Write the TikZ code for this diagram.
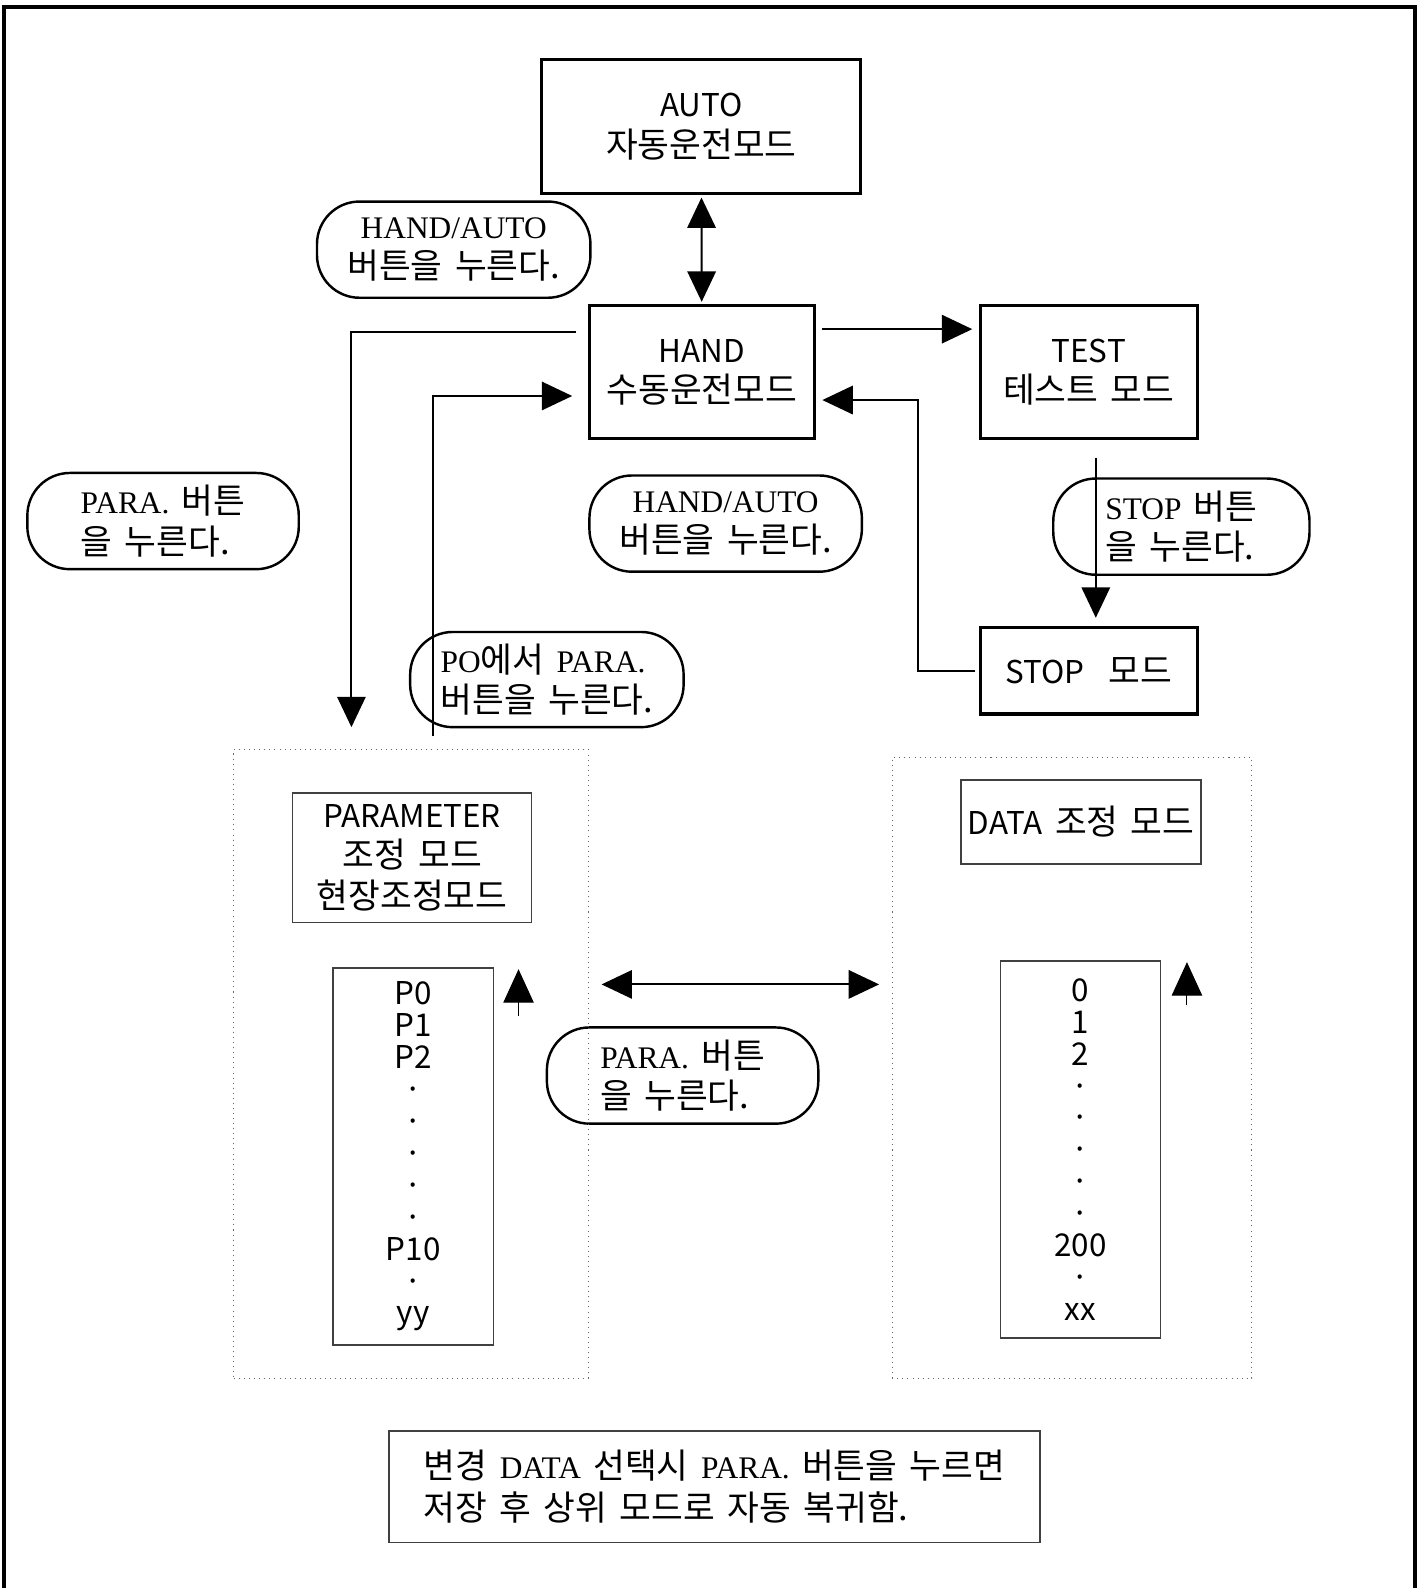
\documentclass[tikz,border=0pt]{standalone}
\usepackage{fontspec}
\setmainfont{Liberation Serif}
\newfontfamily\kr[Scale=1.1,WordSpace=1.6]{Noto Sans CJK KR}
\newfontfamily\sn{Noto Sans CJK KR}
\newfontfamily\tm{Liberation Serif}
\usetikzlibrary{arrows.meta,calc}
\begin{document}
\begin{tikzpicture}[x=0.5pt,y=-0.5pt,
  every node/.style={inner sep=0pt, outer sep=0pt},
  txt/.style={font=\kr\fontsize{15.5pt}{20pt}\selectfont, align=center},
  modebox/.style={txt, draw, line width=1.5pt},
  pill/.style={txt, draw, line width=1.2pt, rounded corners=21pt, align=left, minimum height=47.5pt},
  thinbox/.style={txt, draw=black!75, line width=0.7pt},
  dotbox/.style={draw=black!60, dotted, line width=0.5pt},
  listtxt/.style={font=\sn\fontsize{15.5pt}{15.75pt}\selectfont, align=center},
  arr/.style={line width=1pt, -{Triangle[length=15pt,width=14pt]}},
  dblarr/.style={line width=1pt, {Triangle[length=15pt,width=14pt]}-{Triangle[length=15pt,width=14pt]}},
  uparr/.style={line width=0.5pt, -{Triangle[length=16.5pt,width=15pt]}},
]
\useasboundingbox (0,0) rectangle (1406,1568);
% outer frame
\draw[line width=2.2pt] (4,1570) -- (4,7) -- (1397,7) -- (1397,1570);

% mode boxes
\node[modebox, minimum width=157.5pt, minimum height=66pt] (auto) at (692.5,125) {{\sn AUTO}\\자동운전모드};
\node[modebox, minimum width=111pt, minimum height=65.5pt] (hand) at (693,367.5) {{\sn HAND}\\수동운전모드};
\node[modebox, minimum width=107pt, minimum height=65.5pt] (test) at (1075,367.5) {{\sn TEST}\\테스트 모드};
\node[modebox, minimum width=107pt, minimum height=42.5pt] (stopm) at (1075,662.5) {{\sn STOP}\ \ 모드};

% pills
\node[pill, align=center, minimum width=135pt] (p1) at (448,246.5) {{\tm HAND/AUTO}\\버튼을 누른다.};
\node[pill, minimum width=134pt] (p2) at (161,514.5) {{\tm PARA.} 버튼\\을 누른다.};
\node[pill, align=center, minimum width=134.5pt] (p3) at (716.5,517) {{\tm HAND/AUTO}\\버튼을 누른다.};
\node[pill, minimum width=126.5pt] (p4) at (1166.5,520) {{\tm STOP} 버튼\\을 누른다.};
\node[pill, minimum width=135pt, minimum height=47pt] (p5) at (540,671) {{\tm PO}에서 {\tm PARA.}\\버튼을 누른다.};
\node[pill, minimum width=134pt] (p6) at (674,1062) {{\tm PARA.} 버튼\\을 누른다.};

% containers
\node[dotbox, minimum width=175pt, minimum height=310.5pt] (leftc) at (406,1050.5) {};
\node[dotbox, minimum width=177.5pt, minimum height=306.5pt] (rightc) at (1058.5,1054.5) {};

\node[thinbox, minimum width=118pt, minimum height=64pt] (parbox) at (407,847) {{\sn PARAMETER}\\조정 모드\\현장조정모드};
\node[thinbox, listtxt, minimum width=79pt, minimum height=186pt] (plist) at (408,1142) {P0\\P1\\P2\\·\\·\\·\\·\\·\\P10\\·\\yy};
\node[thinbox, minimum width=118.5pt, minimum height=41.5pt] (databox) at (1067.5,811.5) {{\sn DATA} 조정 모드};
\node[thinbox, listtxt, minimum width=79pt, minimum height=186pt] (dlist) at (1067,1135) {0\\1\\2\\·\\·\\·\\·\\·\\200\\·\\xx};

\node[thinbox, align=left, font=\kr\fontsize{15.5pt}{21pt}\selectfont, minimum width=321.5pt, minimum height=55pt] (note) at (705.5,1468) {변경 {\tm DATA} 선택시 {\tm PARA.} 버튼을 누르면\\저장 후 상위 모드로 자동 복귀함.};

% connectors
\draw[dblarr, shorten <=2pt, shorten >=2pt] (auto) -- (hand);
\draw[arr] ([xshift=4pt,yshift=21.25pt]hand.east) -- ([xshift=-4pt,yshift=21.25pt]test.west);
\coordinate (pin) at (347,718);
\draw[arr] ([xshift=-6.5pt,yshift=19.75pt]hand.west) -| (pin);
\coordinate (pofoot) at (428,727);
\draw[arr] (pofoot) |- ([xshift=-8.5pt,yshift=-11.75pt]hand.west);
\draw[arr] ([xshift=3.5pt,yshift=-9.5pt]test.south) -- ([xshift=3.5pt,yshift=5pt]stopm.north);
\coordinate (bend) at (906,395);
\draw[arr] ([xshift=-2.5pt]stopm.west) -| (bend) -- ([xshift=4pt,yshift=-13.75pt]hand.east);
\coordinate (m1) at (594,972);
\coordinate (m2) at (868,972);
\draw[dblarr] (m1) -- (m2);
\coordinate (u1a) at (512,1003);
\coordinate (u1b) at (512,957);
\draw[uparr] (u1a) -- (u1b);
\coordinate (u2a) at (1172,992);
\coordinate (u2b) at (1172,950);
\draw[uparr] (u2a) -- (u2b);
\end{tikzpicture}
\end{document}
